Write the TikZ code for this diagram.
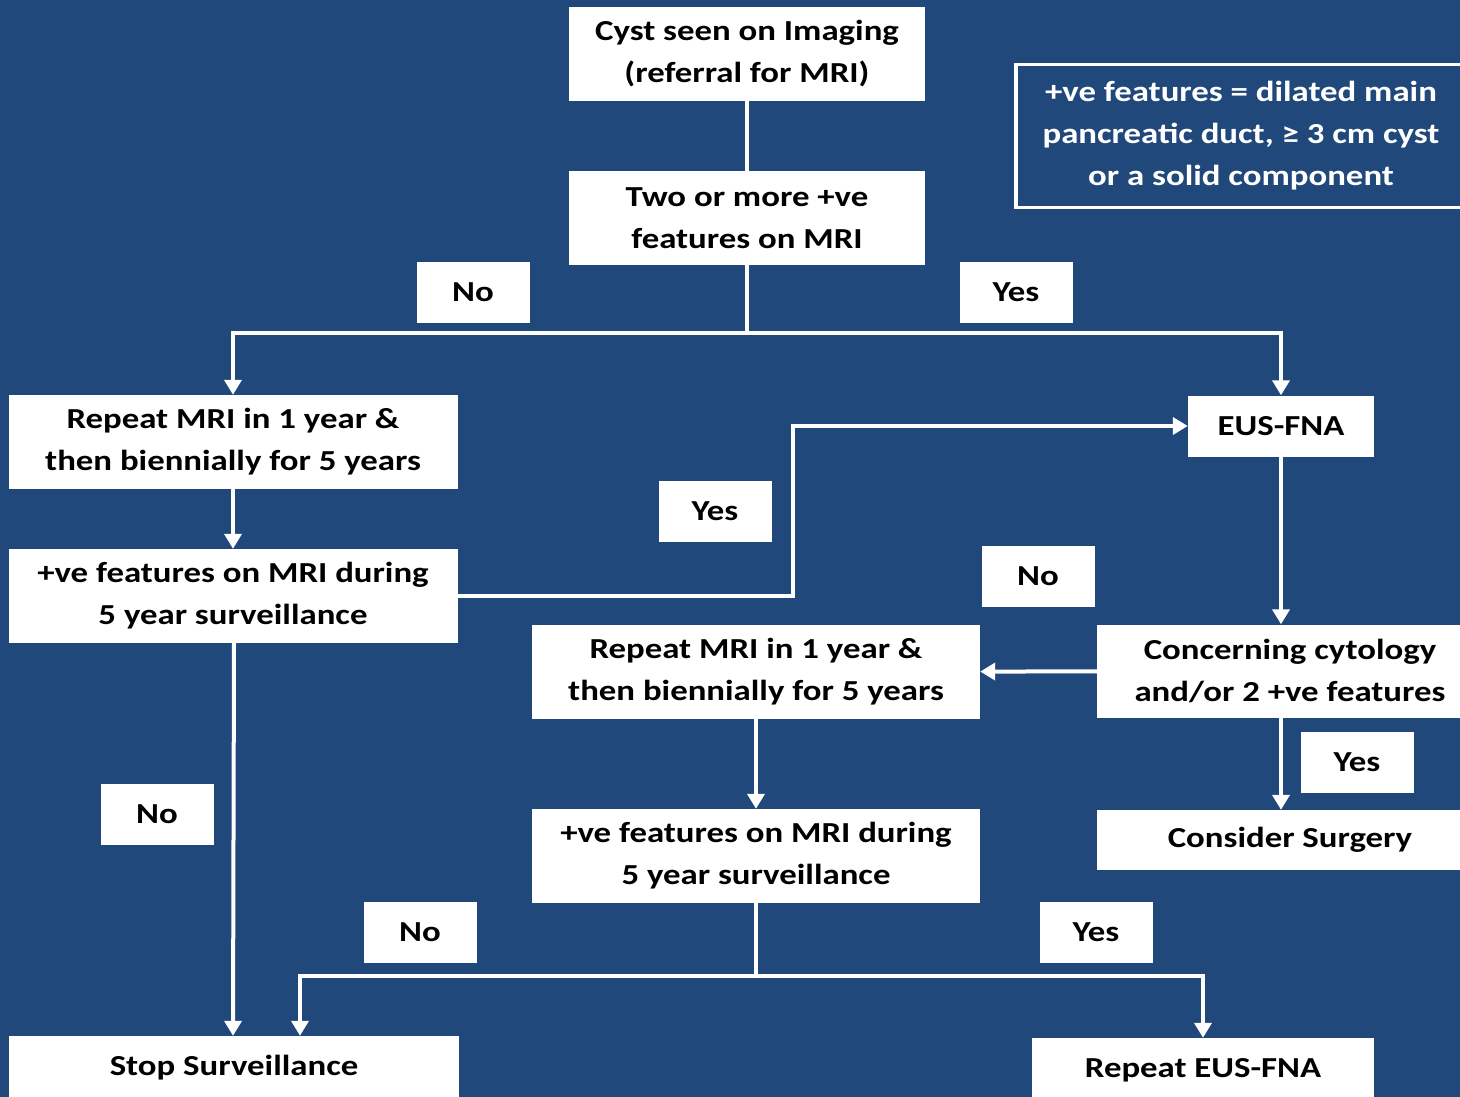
\documentclass[tikz,border=0pt]{standalone}
\usepackage{fontspec}
\setmainfont{Carlito}[FakeStretch=1.2]
\usetikzlibrary{arrows.meta}
\definecolor{bgblue}{RGB}{33,72,122}
\tikzset{>={Triangle[width=17pt,length=15pt]},
  box/.style={fill=white, text=black, align=center, inner sep=0pt,
    font=\fontsize{29}{42}\selectfont\bfseries},
  lbl/.style={box, minimum width=113pt, minimum height=61pt},
  note/.style={draw=white, line width=3.5pt, text=white, align=center,
    inner sep=0pt, font=\fontsize{29}{42}\selectfont\bfseries},
  wire/.style={draw=white, line width=4pt},
  arr/.style={wire, ->}
}
\begin{document}
\begin{tikzpicture}[x=1pt,y=-1pt]
\fill[bgblue] (0,0) rectangle (1460,1097);
\useasboundingbox (0,0) rectangle (1460,1097);
\clip (0,0) rectangle (1460,1097);
% boxes
\node[box, minimum width=356pt, minimum height=94pt] (cyst) at (747,54) {Cyst seen on Imaging\\(referral for MRI)};
\node[box, minimum width=356pt, minimum height=94pt] (two) at (747,218) {Two or more +ve\\features on MRI};
\node[note, minimum width=450pt, minimum height=143pt] (legend) at (1241,136) {+ve features = dilated main\\pancreatic duct, ≥ 3 cm cyst\\or a solid component};
\node[box, minimum width=449pt, minimum height=94pt] (rep1) at (233,442) {Repeat MRI in 1 year \&\\then biennially for 5 years};
\node[box, minimum width=186pt, minimum height=61pt] (eus) at (1281,426) {EUS-FNA};
\node[box, minimum width=449pt, minimum height=94pt] (pos1) at (233,596) {+ve features on MRI during\\5 year surveillance};
\node[box, minimum width=448pt, minimum height=94pt] (rep2) at (756,672) {Repeat MRI in 1 year \&\\then biennially for 5 years};
\node[box, minimum width=386pt, minimum height=93pt] (conc) at (1290,671) {Concerning cytology\\and/or 2 +ve features};
\node[box, minimum width=386pt, minimum height=60pt] (surg) at (1290,840) {Consider Surgery};
\node[box, minimum width=448pt, minimum height=94pt] (pos2) at (756,856) {+ve features on MRI during\\5 year surveillance};
\node[box, minimum width=450pt, minimum height=64pt] (stop) at (234,1068) {Stop Surveillance};
\node[box, minimum width=342pt, minimum height=64pt] (reus) at (1203,1070) {Repeat EUS-FNA};
% labels
\node[lbl] (no1) at (473,292) {No};
\node[lbl] (yes1) at (1016,292) {Yes};
\node[lbl] (yes2) at (715,511) {Yes};
\node[lbl] (no2) at (1038,576) {No};
\node[lbl] (yes3) at (1357,762) {Yes};
\node[lbl] (no3) at (157,814) {No};
\node[lbl] (no4) at (420,932) {No};
\node[lbl] (yes4) at (1096,932) {Yes};
% connectors
\coordinate (split1) at (747,333);
\coordinate (split2) at (756,976);
\draw[wire] (cyst) -- (two);
\draw[wire] (two) -- (split1);
\draw[arr] (split1) -| (rep1);
\draw[arr] (split1) -| (eus);
\draw[arr] (rep1) -- (pos1);
\draw[arr] (pos1.east) -- ++(335,0) |- (eus.west);
\draw[arr] (eus) -- (eus |- conc.north);
\draw[arr] (conc) -- (rep2);
\draw[arr] (eus |- conc.south) -- (eus |- surg.north);
\draw[arr] (rep2) -- (pos2);
\draw[arr] (pos1.south -| stop.north) -- ([xshift=-1pt]stop.north);
\draw[wire] (pos2) -- (split2);
\draw[arr] (split2) -| ([xshift=66pt]stop.north);
\draw[arr] (split2) -| (reus);
\end{tikzpicture}
\end{document}
